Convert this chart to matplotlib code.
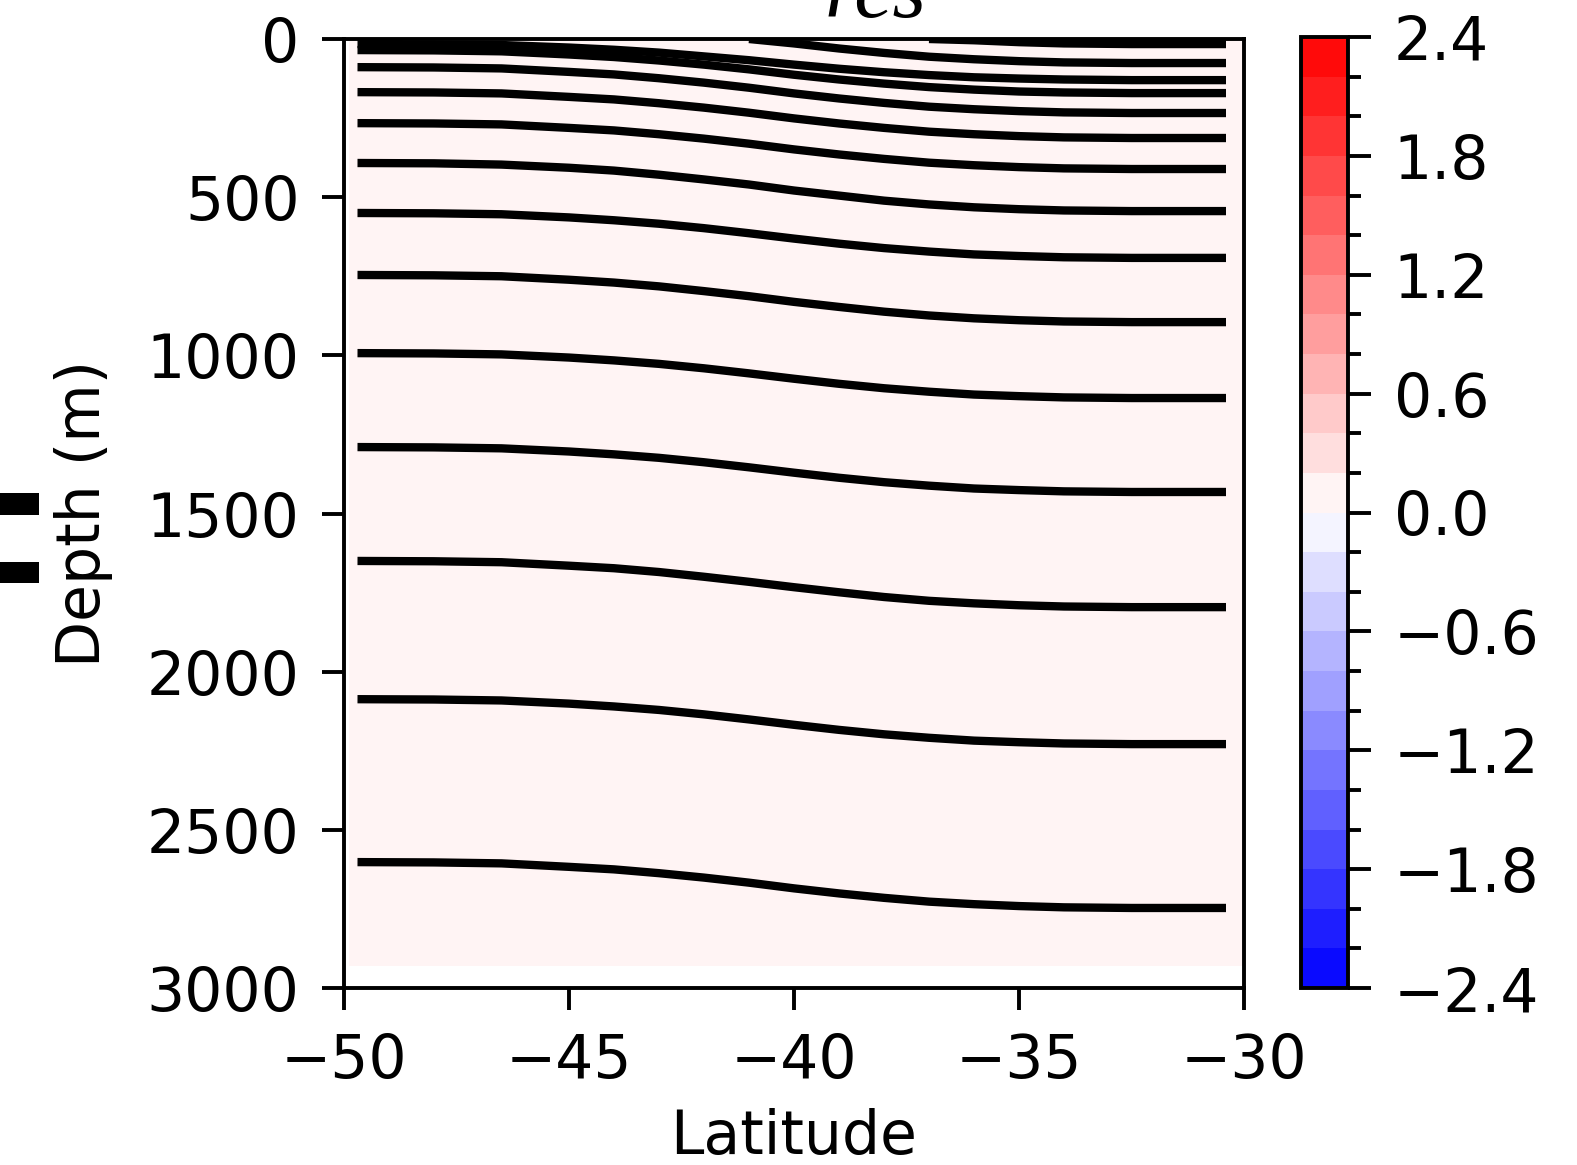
import numpy as np
import matplotlib.pyplot as plt
from matplotlib.patches import Rectangle
from matplotlib.ticker import FixedLocator

# latitudes where the isopycnal depths were sampled
lat = [-49.7, -48, -46.5, -45, -44, -43, -42, -41, -40, -39, -38, -37, -36, -35, -34, -32.5, -30.4]

# isopycnal depths (m), shallow to deep; nan where the layer has outcropped
nan = np.nan
d01 = [nan, nan, nan, nan, nan, nan, nan, nan, nan, nan, nan, 0, 4, 10, 14, 16, 16]
d02 = [nan, nan, nan, nan, nan, nan, nan, 0, 14, 30, 44, 56, 64, 70, 74, 76, 76]
d03 = [16, 17, 19, 27, 34, 43, 55, 67, 81, 94, 105, 114, 121, 125, 128, 130, 130]
d04 = [35, 36, 39, 49, 57, 68, 81, 96, 113, 128, 141, 152, 160, 166, 169, 171, 171]
d05 = [89, 90, 93, 104, 112, 124, 138, 154, 172, 188, 202, 214, 222, 228, 232, 234, 234]
d06 = [168, 169, 172, 183, 191, 203, 217, 233, 251, 267, 281, 293, 301, 307, 311, 313, 313]
d07 = [266, 267, 270, 281, 289, 301, 315, 331, 349, 365, 379, 391, 399, 405, 409, 411, 411]
d08 = [392, 393, 397, 407, 416, 429, 444, 460, 479, 495, 511, 523, 532, 538, 542, 544, 544]
d09 = [550, 551, 554, 564, 573, 584, 598, 614, 631, 647, 661, 672, 681, 686, 690, 692, 692]
d10 = [746, 747, 750, 761, 770, 782, 797, 813, 831, 847, 862, 874, 883, 889, 893, 895, 895]
d11 = [993, 994, 997, 1007, 1016, 1027, 1041, 1057, 1074, 1090, 1104, 1115, 1124, 1129, 1133, 1135, 1135]
d12 = [1290, 1291, 1294, 1304, 1313, 1324, 1338, 1354, 1371, 1387, 1401, 1412, 1421, 1426, 1430, 1432, 1432]
d13 = [1650, 1651, 1654, 1665, 1673, 1685, 1700, 1716, 1733, 1749, 1764, 1776, 1784, 1790, 1794, 1796, 1796]
d14 = [2087, 2088, 2091, 2101, 2110, 2121, 2135, 2151, 2168, 2184, 2198, 2209, 2218, 2223, 2227, 2229, 2229]
d15 = [2602, 2603, 2606, 2617, 2625, 2637, 2651, 2667, 2685, 2701, 2715, 2727, 2735, 2741, 2745, 2747, 2747]
isopycnals = [d01, d02, d03, d04, d05, d06, d07, d08, d09, d10, d11, d12, d13, d14, d15]

# residual field (nearly zero everywhere)
res_lat = [-49.9, -40.0, -30.0]
res_depth = [0, 1500, 2930]
res = [[0.05, 0.05, 0.05],
       [0.05, 0.05, 0.05],
       [0.05, 0.05, 0.05]]

levels = np.round(np.arange(-2.4, 2.41, 0.2), 1)
cb_ticks = np.round(np.arange(-2.4, 2.41, 0.6), 1)

plt.rcParams['font.size'] = 10.8
plt.rcParams['axes.linewidth'] = 0.7

fig = plt.figure(figsize=(1577 / 400, 1165 / 400), dpi=400)
ax = fig.add_axes([344 / 1577, 1 - 988 / 1165, 900 / 1577, 949 / 1165])
cax = fig.add_axes([1301 / 1577, 1 - 988 / 1165, 47 / 1577, 951 / 1165])

cf = ax.contourf(res_lat, res_depth, res, levels=levels, cmap='bwr')
for d in isopycnals:
    ax.plot(lat, d, color='k', lw=1.5, solid_capstyle='butt', solid_joinstyle='round')

ax.set_xlim(-50, -30)
ax.set_ylim(3000, 0)
ax.set_xticks([-50, -45, -40, -35, -30])
ax.set_yticks(np.arange(0, 3001, 500))
ax.tick_params(length=4, width=0.7, pad=4)
ax.set_xlabel('Latitude', labelpad=3)
ax.set_ylabel('Depth (m)', labelpad=6)

cb = fig.colorbar(cf, cax=cax, ticks=cb_ticks)
cb.ax.yaxis.set_minor_locator(FixedLocator(levels))
cb.ax.tick_params(which='major', length=4.2, width=0.7, pad=4)
cb.ax.tick_params(which='minor', length=2.4, width=0.7)
cb.outline.set_linewidth(0.7)

# title sits partly above the top edge
fig.text(876 / 1577, 1 - 17 / 1165, 'res', family='Liberation Serif', style='italic',
         fontsize=15.5, ha='center', va='baseline')

# edge of the neighbouring panel label
for y0, h in [(493, 22), (562, 21)]:
    fig.add_artist(Rectangle((0, 1 - (y0 + h) / 1165), 39 / 1577, h / 1165,
                             transform=fig.transFigure, color='k', lw=0))

fig.savefig('out.png', dpi=400)
